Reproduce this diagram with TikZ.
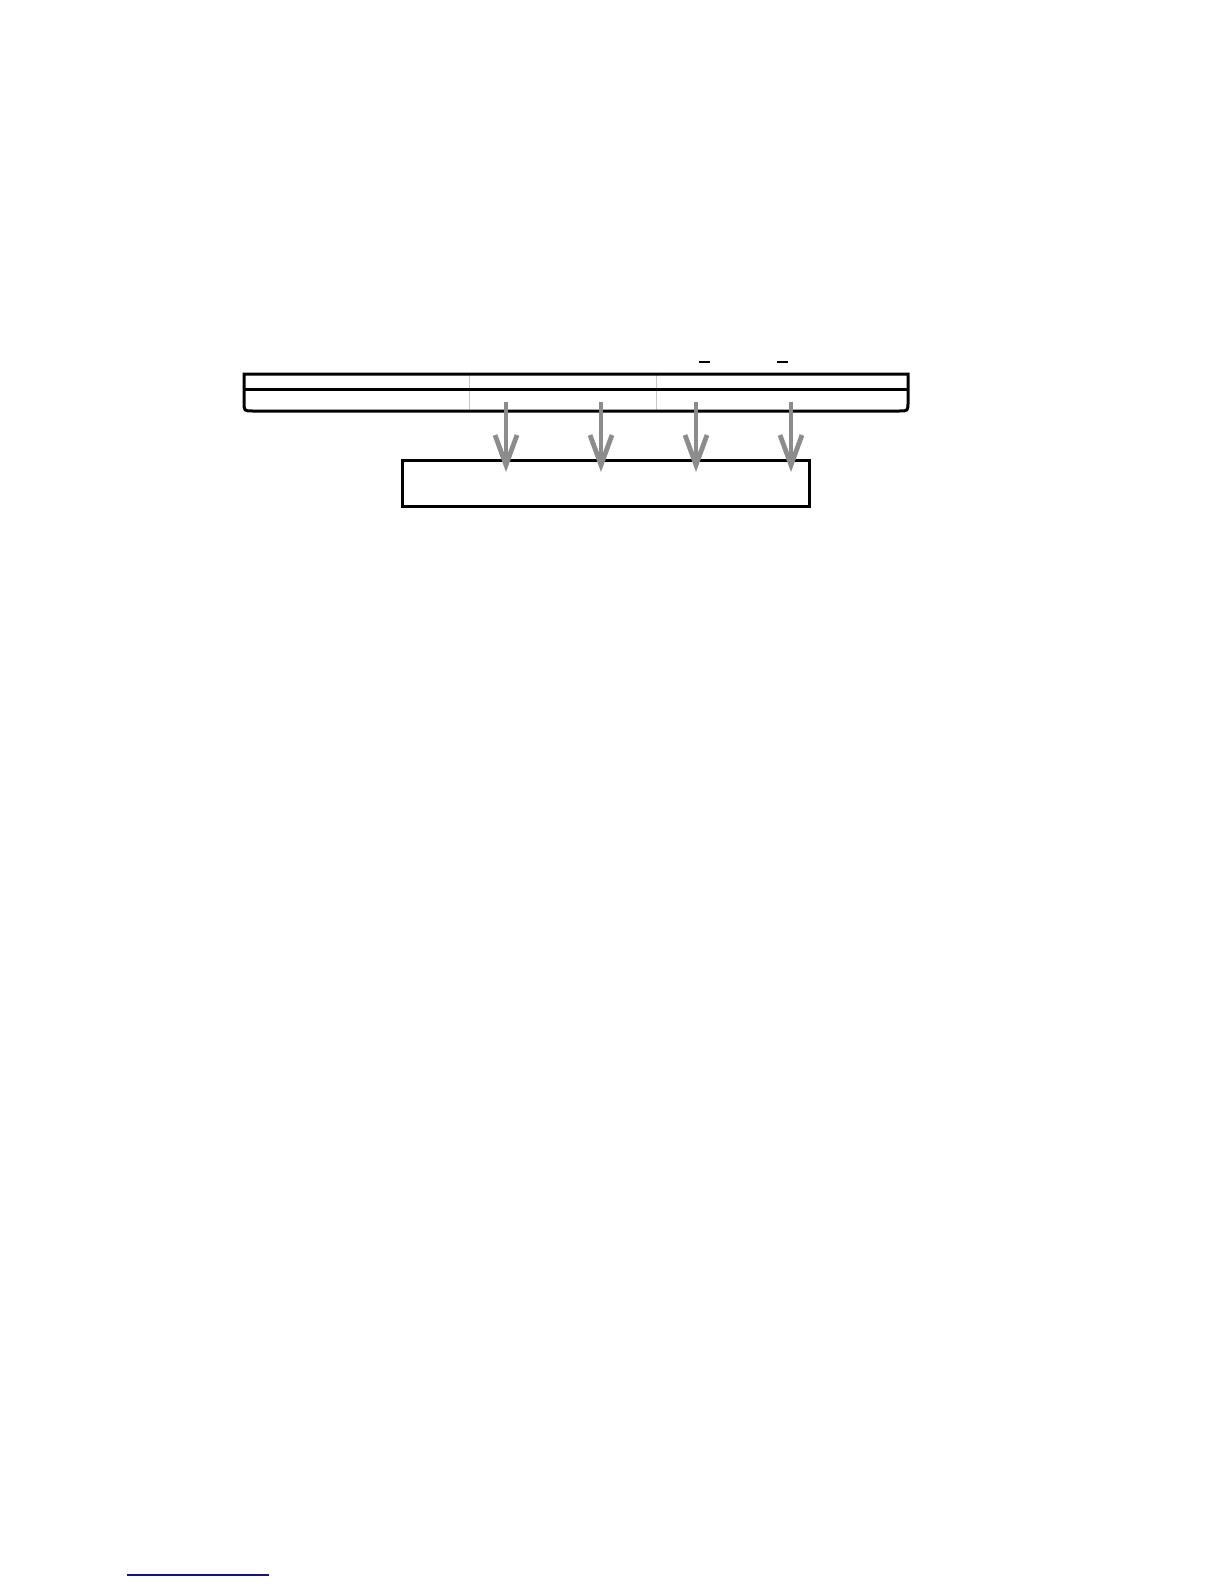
\documentclass[tikz,border=0pt]{standalone}
\usetikzlibrary{arrows.meta}
\definecolor{arrowgray}{RGB}{140,140,140}
\definecolor{divgray}{RGB}{200,200,200}
\definecolor{navyline}{RGB}{20,20,130}
\begin{document}
\begin{tikzpicture}[x=0.5pt,y=-0.5pt,
  barline/.style={line width=1.5pt,black},
  divline/.style={line width=0.5pt,divgray},
  downarrow/.style={line width=2.4pt,arrowgray,-{Straight Barb[length=15pt,width=11pt]}},
  tick/.style={line width=1pt,black},
  boxstyle/.style={draw,line width=1.5pt,black,rectangle,minimum width=203.5pt,minimum height=23pt,inner sep=0pt}]
\useasboundingbox (0,0) rectangle (1224,1584);
% bar
\draw[divline] (469,374) -- (469,411);
\draw[divline] (656,374) -- (656,411);
\draw[barline,line join=miter] (244,402) -- (244,374) -- (908,374) -- (908,402)
  .. controls (908,411) .. (899,411) -- (253,411) .. controls (244,411) .. (244,402) -- cycle;
\draw[barline] (244,389) -- (908,389);
% ticks
\draw[tick] (699,362) -- (710,362);
\draw[tick] (777,362) -- (788,362);
% box
\node[boxstyle] (box) at (605.5,483) {};
% arrows
\foreach \i/\x in {1/506,2/601,3/696,4/791}{
  \coordinate (s\i) at (\x,402);
  \coordinate (t\i) at (\x,472);
  \draw[downarrow] (s\i) -- (t\i);
}
% bottom link line
\coordinate (l1) at (127,1575);
\coordinate (l2) at (269,1575);
\draw[navyline,line width=0.8pt] (l1) -- (l2);
\end{tikzpicture}
\end{document}
